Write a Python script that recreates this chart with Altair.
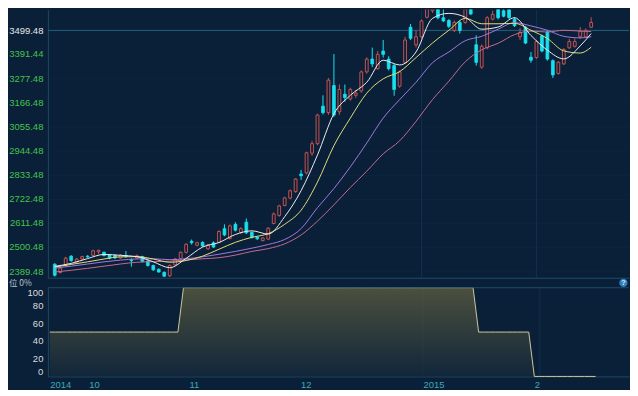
import altair as alt
import pandas as pd

BG = "#0a2039"
RED = "#c4524f"
CYAN = "#18e0ee"
AXIS_LINE = "#1d4a66"

# ---- daily candles (index 0 = first trading day shown) ----
opens = [2421, 2383, 2415, 2458, 2432, 2445, 2458, 2462, 2478, 2476,
         2465, 2462, 2450, 2460, 2440, 2450, 2456, 2436, 2415, 2398,
         2384, 2368, 2418, 2447, 2476, 2527, 2508, 2522, 2492, 2520,
         2522, 2585, 2540, 2605, 2568, 2615, 2568, 2546, 2530, 2537,
         2609, 2646, 2692, 2726, 2756, 2837, 2842, 2933, 2977, 3150,
         3120, 3245, 3124, 3205, 3183, 3200, 3220, 3308, 3367, 3323,
         3404, 3367, 3337, 3242, 3352, 3514, 3433, 3470, 3560, 3590,
         3610, 3558, 3545, 3499, 3536, 3536, 3610, 3433, 3330, 3419,
         3551, 3600, 3590, 3595, 3551, 3470, 3514, 3376, 3374, 3474,
         3492, 3360, 3301, 3345, 3419, 3426, 3470, 3470, 3514]
highs = [2426, 2410, 2455, 2463, 2450, 2460, 2463, 2488, 2488, 2480,
         2468, 2465, 2468, 2482, 2448, 2466, 2460, 2440, 2419, 2401,
         2387, 2420, 2450, 2480, 2518, 2535, 2525, 2526, 2515, 2526,
         2578, 2605, 2605, 2615, 2592, 2632, 2572, 2550, 2546, 2592,
         2660, 2695, 2732, 2766, 2818, 2856, 2940, 2990, 3115, 3200,
         3280, 3390, 3250, 3250, 3235, 3225, 3315, 3375, 3420, 3404,
         3455, 3380, 3345, 3315, 3470, 3529, 3500, 3550, 3640, 3650,
         3630, 3600, 3552, 3545, 3545, 3620, 3630, 3477, 3435, 3565,
         3590, 3620, 3610, 3605, 3560, 3510, 3520, 3400, 3455, 3480,
         3498, 3366, 3358, 3418, 3460, 3462, 3515, 3508, 3560]
lows = [2364, 2378, 2410, 2432, 2428, 2440, 2450, 2458, 2468, 2457,
        2444, 2445, 2446, 2450, 2410, 2446, 2430, 2410, 2390, 2382,
        2362, 2362, 2414, 2443, 2470, 2512, 2504, 2500, 2488, 2496,
        2518, 2550, 2535, 2572, 2560, 2560, 2540, 2533, 2526, 2533,
        2605, 2640, 2688, 2720, 2750, 2810, 2835, 2920, 2970, 3112,
        3110, 3100, 3110, 3170, 3175, 3188, 3212, 3300, 3330, 3318,
        3374, 3315, 3198, 3235, 3345, 3455, 3420, 3462, 3555, 3580,
        3550, 3538, 3510, 3492, 3485, 3530, 3570, 3337, 3322, 3412,
        3545, 3550, 3560, 3552, 3515, 3455, 3436, 3350, 3368, 3398,
        3360, 3280, 3295, 3340, 3414, 3420, 3460, 3465, 3510]
closes = [2370, 2403, 2449, 2438, 2445, 2456, 2455, 2483, 2485, 2461,
          2449, 2450, 2462, 2457, 2437, 2460, 2434, 2415, 2395, 2385,
          2366, 2415, 2445, 2476, 2513, 2520, 2520, 2505, 2510, 2500,
          2572, 2556, 2598, 2578, 2585, 2566, 2544, 2538, 2542, 2587,
          2653, 2690, 2727, 2760, 2814, 2829, 2935, 2977, 3109, 3120,
          3270, 3109, 3227, 3190, 3227, 3210, 3308, 3367, 3345, 3389,
          3389, 3323, 3227, 3308, 3455, 3463, 3470, 3543, 3610, 3625,
          3558, 3543, 3518, 3536, 3499, 3600, 3575, 3352, 3426, 3558,
          3573, 3558, 3565, 3558, 3521, 3490, 3441, 3362, 3448, 3404,
          3367, 3294, 3352, 3411, 3448, 3448, 3495, 3500, 3536]

# ---- moving-average lines ----
ma_idx = [0, 3, 6, 9, 12, 15, 18, 21, 24, 27, 30, 33, 36, 39, 42, 45, 48,
          51, 54, 57, 60, 63, 66, 69, 72, 75, 78, 81, 84, 87, 90, 93, 96, 98]
ma5 = [2411, 2425, 2447, 2466, 2462, 2456, 2432, 2405, 2448, 2500, 2521, 2558,
       2575, 2560, 2640, 2760, 2925, 3115, 3200, 3260, 3362, 3340, 3400, 3555,
       3578, 3560, 3505, 3515, 3558, 3476, 3408, 3368, 3428, 3485]
ma10 = [2408, 2420, 2432, 2445, 2455, 2456, 2445, 2430, 2438, 2458, 2490, 2522,
        2545, 2562, 2605, 2670, 2800, 2968, 3095, 3210, 3276, 3309, 3374, 3441,
        3500, 3555, 3530, 3530, 3532, 3500, 3462, 3405, 3395, 3422]
ma20 = [2403, 2412, 2422, 2432, 2440, 2445, 2446, 2442, 2446, 2455, 2467, 2480,
        2495, 2512, 2535, 2585, 2682, 2770, 2870, 2980, 3095, 3180, 3260, 3350,
        3400, 3452, 3472, 3505, 3535, 3520, 3500, 3472, 3465, 3470]
ma30 = [2385, 2393, 2402, 2412, 2422, 2430, 2433, 2435, 2441, 2446, 2451, 2463,
        2480, 2493, 2515, 2556, 2620, 2695, 2775, 2850, 2930, 2990, 3080, 3180,
        3265, 3355, 3410, 3440, 3480, 3496, 3492, 3500, 3496, 3494]

# ---- position (lower panel, %) ----
position = [50, 50, 50, 50, 50, 50, 50, 50, 50, 50, 50, 50, 50, 50, 50, 50,
            50, 50, 50, 50, 50, 50, 50, 50,
            100, 100, 100, 100, 100, 100, 100, 100, 100, 100, 100, 100, 100,
            100, 100, 100, 100, 100, 100, 100, 100, 100, 100, 100, 100, 100,
            100, 100, 100, 100, 100, 100, 100, 100, 100, 100, 100, 100, 100,
            100, 100, 100, 100, 100, 100, 100, 100, 100, 100, 100, 100, 100,
            100,
            50, 50, 50, 50, 50, 50, 50, 50, 50, 50,
            0, 0, 0, 0, 0, 0, 0, 0, 0, 0, 0, 0]

price_ticks = [2389.48, 2500.48, 2611.48, 2722.48, 2833.48, 2944.48,
               3055.48, 3166.48, 3277.48, 3391.44, 3499.48]
price_line = [3499.48]
pos_ticks = [0, 20, 40, 60, 80, 100]
month_ticks = [0, 7, 25, 45, 67, 87]
month_labels = ["2014", "10", "11", "12", "2015", "2"]
month_lines = [67, 88]

n = len(closes)
idx = list(range(n))
candles = pd.DataFrame({"i": idx, "o": opens, "h": highs, "l": lows, "c": closes})
candles["dir"] = ["up" if c >= o else "down" for o, c in zip(opens, closes)]

xscale = alt.Scale(domain=[-0.35, 104.0], nice=False, zero=False)
yscale = alt.Scale(domain=[2358.6, 3595.3], nice=False, zero=False)

FONT = "Liberation Sans"

x_up = alt.X("i:Q", scale=xscale,
             axis=alt.Axis(labels=False, ticks=False, grid=False, domain=True,
                           domainColor=AXIS_LINE, title=None))
y_axis = alt.Axis(values=price_ticks, format=".2f",
                  labelColor={"condition": {"test": "datum.value > 3450", "value": "#e8e8e8"},
                              "value": "#46c24a"},
                  ticks=False, grid=True, gridColor="#0d243d", domain=True,
                  domainColor=AXIS_LINE, labelPadding=5, title=None,
                  labelFont=FONT, labelFontSize=9.5)


def Y(field):
    return alt.Y(field, scale=yscale, axis=y_axis)


base = alt.Chart(candles)
up = base.transform_filter("datum.dir == 'up'")
down = base.transform_filter("datum.dir == 'down'")

price_rule = alt.Chart(pd.DataFrame({"v": price_line})).mark_rule(
    color="#23607e", strokeWidth=1).encode(y=Y("v:Q"))
vlines_up = alt.Chart(pd.DataFrame({"i": month_lines})).mark_rule(
    color="#11304b", strokeWidth=1).encode(x=x_up)

wick_up = up.mark_rule(color=RED, strokeWidth=1, clip=True).encode(
    x=x_up, y=Y("l:Q"), y2="h:Q")
wick_dn = down.mark_rule(color=CYAN, strokeWidth=1, clip=True).encode(
    x=x_up, y=Y("l:Q"), y2="h:Q")
body_up = up.mark_bar(width=2.8, fill=BG, stroke=RED, strokeWidth=1, clip=True).encode(
    x=x_up, y=Y("c:Q"), y2="o:Q")
body_dn = down.mark_bar(width=2.8, fill=CYAN, stroke=CYAN, strokeWidth=0.8, clip=True).encode(
    x=x_up, y=Y("o:Q"), y2="c:Q")

ma_layers = []
for vals, col in [(ma30, "#c46a8c"), (ma20, "#a276e0"), (ma10, "#e0dc78"), (ma5, "#ececec")]:
    df = pd.DataFrame({"i": ma_idx, "v": vals})
    ma_layers.append(alt.Chart(df).mark_line(color=col, strokeWidth=1,
                                             interpolate="monotone", clip=True)
                     .encode(x=x_up, y=Y("v:Q")))

upper = alt.layer(vlines_up, price_rule, wick_up, wick_dn, body_up, body_dn,
                  *ma_layers).properties(width=583, height=269)

# ---- lower panel ----
label_expr = " : ".join(
    f"datum.value == {t} ? '{l}'" for t, l in zip(month_ticks, month_labels)) + " : ''"
x_low = alt.X("i:Q", scale=xscale,
              axis=alt.Axis(values=month_ticks, labelExpr=label_expr, labelAlign="left",
                            labelColor="#3fa8b8", ticks=False, grid=False,
                            domainColor=AXIS_LINE, labelPadding=3, title=None,
                            labelFont=FONT, labelFontSize=9.5))
low_scale = alt.Scale(domain=[0, 100], nice=False, zero=False)
low_axis = alt.Axis(values=pos_ticks, labelColor="#dcdcdc", ticks=False, grid=False,
                    domainColor=AXIS_LINE, labelPadding=5, title=None,
                    labelFont=FONT, labelFontSize=9.5,
                    labelBaseline={"condition": [
                        {"test": "datum.value == 100", "value": "top"},
                        {"test": "datum.value == 0", "value": "bottom"}],
                        "value": "middle"})


def YL(field):
    return alt.Y(field, scale=low_scale, axis=low_axis)


pos_df = pd.DataFrame({"i": idx, "p": position})
gradient = alt.Gradient(gradient="linear",
                        stops=[alt.GradientStop(color="#67643f", offset=0),
                               alt.GradientStop(color="#15293b", offset=1)],
                        x1=1, x2=1, y1=0, y2=1)
area = alt.Chart(pos_df).mark_area(
    color=gradient, line={"color": "#cdc89a", "strokeWidth": 1}).encode(
    x=x_low, y=YL("p:Q"))
top_rule = alt.Chart(pd.DataFrame({"p": [100]})).mark_rule(
    color=AXIS_LINE, strokeWidth=1).encode(y=YL("p:Q"))
vlines_low = alt.Chart(pd.DataFrame({"i": month_lines})).mark_rule(
    color="#11304b", strokeWidth=1).encode(x=x_low)
pos_label = alt.Chart(pd.DataFrame({"i": [-7.33], "p": [105.2], "t": ["位 0%"]})).mark_text(
    align="left", baseline="middle", color="#b8c2cc", fontSize=8.5,
    font="Noto Sans CJK SC").encode(x=x_low, y=YL("p:Q"), text="t:N")
help_dot = alt.Chart(pd.DataFrame({"i": [103.0], "p": [105.5]})).mark_point(
    filled=True, color="#2f7fbf", size=70, opacity=1).encode(x=x_low, y=YL("p:Q"))
help_txt = alt.Chart(pd.DataFrame({"i": [103.0], "p": [105.5], "t": ["?"]})).mark_text(
    color="#dbe9f5", fontSize=8, fontWeight="bold", baseline="middle").encode(
    x=x_low, y=YL("p:Q"), text="t:N")

lower = alt.layer(vlines_low, area, top_rule, pos_label, help_dot, help_txt).properties(
    width=583, height=89)

chart = alt.vconcat(upper, lower, spacing=10, bounds="flush").properties(
    background=BG, padding=0).configure_view(stroke=None)

chart.save("out.html", embed_options={"renderer": "svg", "actions": False})
